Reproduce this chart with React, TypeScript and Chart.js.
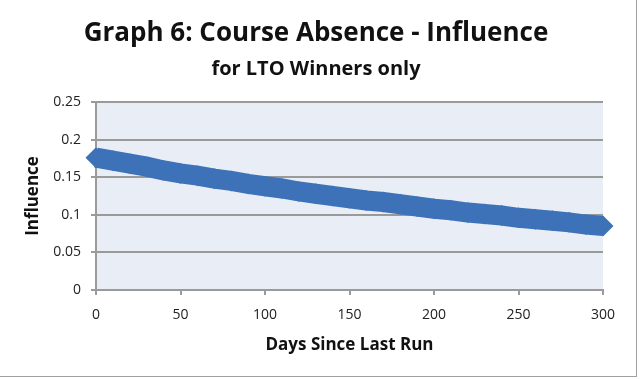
import React, { useEffect, useRef } from "react";
import { Chart, registerables } from "chart.js";

Chart.register(...registerables);

const titleText = "Graph 6: Course Absence - Influence";
const subtitleText = "for LTO Winners only";
const xAxisTitle = "Days Since Last Run";
const yAxisTitle = "Influence";

const days = [
  0, 10, 20, 30, 40, 50, 60, 70, 80, 90, 100, 110, 120, 130, 140, 150, 160,
  170, 180, 190, 200, 210, 220, 230, 240, 250, 260, 270, 280, 290, 300,
];
const influence = [
  0.176, 0.172, 0.168, 0.164, 0.159, 0.155, 0.152, 0.148, 0.145, 0.141, 0.138,
  0.135, 0.131, 0.128, 0.125, 0.122, 0.119, 0.117, 0.114, 0.111, 0.108, 0.106,
  0.103, 0.101, 0.099, 0.096, 0.094, 0.092, 0.09, 0.087, 0.085,
];
const xTicks = [0, 50, 100, 150, 200, 250, 300];
const yTicks = [0, 0.05, 0.1, 0.15, 0.2, 0.25];
const yTickLabels = ["0", "0.05", "0.1", "0.15", "0.2", "0.25"];

const FONT = "'Open Sans', Lato, sans-serif";
const GRID = "#9a9a9a";
const BLUE = "#3d72b9";

const bgPlugin = {
  id: "plotBg",
  beforeDraw(chart: any) {
    const { ctx, chartArea } = chart;
    ctx.save();
    ctx.fillStyle = "#e9eef6";
    ctx.fillRect(
      chartArea.left,
      chartArea.top,
      chartArea.right - chartArea.left,
      chartArea.bottom - chartArea.top
    );
    ctx.restore();
  },
};

const headingPlugin = {
  id: "headings",
  afterDraw(chart: any) {
    const { ctx } = chart;
    ctx.save();
    ctx.fillStyle = "#111";
    ctx.textAlign = "center";
    ctx.textBaseline = "alphabetic";
    ctx.font = `bold 26px ${FONT}`;
    ctx.fillText(titleText, 316, 41);
    ctx.font = `bold 20px ${FONT}`;
    ctx.fillText(subtitleText, 316, 75);
    ctx.restore();
  },
};

export default function App() {
  const ref = useRef<HTMLCanvasElement>(null);

  useEffect(() => {
    if (!ref.current) return;
    const chart = new Chart(ref.current, {
      type: "line",
      data: {
        datasets: [
          {
            data: days.map((d, i) => ({ x: d, y: influence[i] })),
            borderColor: BLUE,
            backgroundColor: BLUE,
            borderWidth: 20,
            pointStyle: "rectRot",
            pointRadius: 10.5,
            pointBorderWidth: 0,
            pointBackgroundColor: BLUE,
            clip: false as any,
            tension: 0,
          },
        ],
      },
      options: {
        animation: false,
        responsive: false,
        devicePixelRatio: 1,
        layout: { padding: { left: 0, right: 37, top: 102, bottom: 0 } },
        plugins: {
          legend: { display: false },
          tooltip: { enabled: false },
          title: { display: false },
        },
        scales: {
          x: {
            type: "linear",
            min: 0,
            max: 300,
            afterBuildTicks: (s: any) => {
              s.ticks = xTicks.map((v) => ({ value: v }));
            },
            afterFit: (s: any) => {
              s.height = 89;
            },
            ticks: {
              color: "#222",
              font: { family: FONT, size: 14 },
              padding: 12,
              maxRotation: 0,
            },
            grid: {
              drawOnChartArea: false,
              drawTicks: true,
              tickLength: 5,
              color: GRID,
              lineWidth: 2,
            },
            border: { color: GRID, width: 2 },
            title: {
              display: true,
              text: xAxisTitle,
              color: "#111",
              font: { family: FONT, size: 17, weight: "bold" },
              padding: { top: 0, bottom: 24 },
            },
          },
          y: {
            type: "linear",
            min: 0,
            max: 0.25,
            afterBuildTicks: (s: any) => {
              s.ticks = yTicks.map((v) => ({ value: v }));
            },
            afterFit: (s: any) => {
              s.width = 96;
            },
            ticks: {
              color: "#222",
              font: { family: FONT, size: 14 },
              padding: 10,
              callback: (_v: any, i: number) => yTickLabels[i],
            },
            grid: {
              drawTicks: true,
              tickLength: 5,
              color: GRID,
              lineWidth: 2,
            },
            border: { color: GRID, width: 2 },
            title: {
              display: true,
              text: yAxisTitle,
              color: "#111",
              font: { family: FONT, size: 17, weight: "bold" },
              padding: { top: 23, bottom: 0 },
            },
          },
        },
      } as any,
      plugins: [bgPlugin, headingPlugin],
    });
    return () => chart.destroy();
  }, []);

  return (
    <div
      style={{
        position: "fixed",
        left: 0,
        top: 0,
        width: 640,
        height: 379,
        background: "#fff",
      }}
    >
      <canvas ref={ref} width={640} height={379} style={{ display: "block" }} />
      <div
        style={{
          position: "absolute",
          left: 0,
          top: 0,
          width: 636,
          height: 376,
          borderRight: "1px solid #a0a0a0",
          borderBottom: "1px solid #a0a0a0",
          pointerEvents: "none",
        }}
      />
    </div>
  );
}
